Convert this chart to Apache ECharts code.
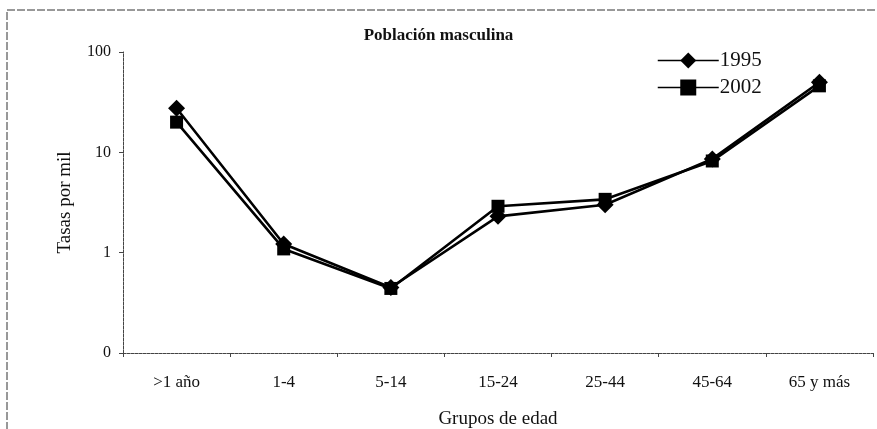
<!DOCTYPE html>
<html>
<head>
<meta charset="utf-8">
<script src="https://cdn.jsdelivr.net/npm/echarts@6/dist/echarts.min.js"></script>
<style>
html,body{margin:0;padding:0;background:#fff;}
#c{width:877px;height:429px;}
</style>
</head>
<body>
<div id="c"></div>
<script>
const categories = ['>1 año', '1-4', '5-14', '15-24', '25-44', '45-64', '65 y más'];
const values1995 = [27.5, 1.22, 0.45, 2.3, 3.0, 8.6, 50];
const values2002 = [20, 1.09, 0.44, 2.9, 3.4, 8.2, 46];
const seriesNames = ['1995', '2002'];
const titleText = 'Población masculina';
const yAxisTitle = 'Tasas por mil';
const xAxisTitle = 'Grupos de edad';

const FONT = '"Liberation Serif", "DejaVu Serif", serif';
const chart = echarts.init(document.getElementById('c'), null, {renderer: 'canvas'});
chart.setOption({
  animation: false,
  backgroundColor: '#fff',
  title: {
    text: titleText,
    left: 'center',
    top: 22,
    textStyle: {fontFamily: FONT, fontSize: 17, fontWeight: 'bold', color: '#111'}
  },
  legend: {
    orient: 'vertical',
    left: 652,
    top: 45,
    itemWidth: 61,
    itemHeight: 20,
    itemGap: 6,
    lineStyle: {width: 1.5},
    textStyle: {fontFamily: FONT, fontSize: 21, color: '#111', padding: [0, 0, 0, -4]},
    data: seriesNames
  },
  grid: {left: 123, right: 4, top: 52, bottom: 76, containLabel: false, outerBoundsMode: 'none'},
  xAxis: {
    type: 'category',
    data: categories,
    boundaryGap: true,
    name: xAxisTitle,
    nameLocation: 'middle',
    nameGap: 57,
    nameTextStyle: {fontFamily: FONT, fontSize: 19, color: '#111'},
    axisLine: {lineStyle: {color: '#444', width: 1, type: [3, 1]}},
    axisTick: {show: true, length: 4, lineStyle: {color: '#444'}},
    axisLabel: {fontFamily: FONT, fontSize: 17, color: '#111', margin: 21}
  },
  yAxis: {
    type: 'log',
    logBase: 10,
    min: 0.1,
    max: 100,
    name: yAxisTitle,
    nameLocation: 'middle',
    nameGap: 48,
    nameTextStyle: {fontFamily: FONT, fontSize: 19, color: '#111'},
    axisLine: {show: true, lineStyle: {color: '#444', width: 1, type: [3, 1]}},
    axisTick: {show: true, length: 4, lineStyle: {color: '#444'}},
    splitLine: {show: false},
    minorTick: {show: false},
    axisLabel: {
      fontFamily: FONT, fontSize: 16, color: '#111', margin: 12,
      formatter: v => (v < 0.5 ? '0' : String(Math.round(v)))
    }
  },
  series: [
    {
      name: seriesNames[0],
      type: 'line',
      data: values1995,
      symbol: 'diamond',
      symbolSize: 17,
      showAllSymbol: true,
      itemStyle: {color: '#000'},
      lineStyle: {color: '#000', width: 2.6}
    },
    {
      name: seriesNames[1],
      type: 'line',
      data: values2002,
      symbol: 'rect',
      symbolSize: 13,
      showAllSymbol: true,
      itemStyle: {color: '#000'},
      lineStyle: {color: '#000', width: 2.6}
    }
  ],
  graphic: [{
    type: 'rect',
    shape: {x: 7, y: 10, width: 900, height: 450},
    style: {fill: 'none', stroke: '#333', lineWidth: 1, lineDash: [8, 2]},
    silent: true
  }]
});
</script>
</body>
</html>
